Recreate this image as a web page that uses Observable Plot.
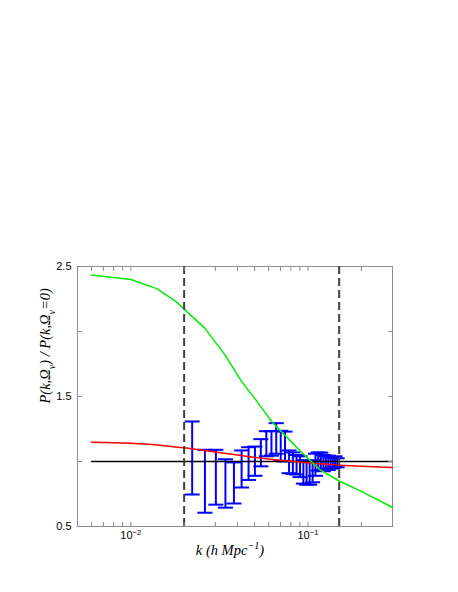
<!DOCTYPE html>
<html><head><meta charset="utf-8">
<script src="https://cdn.jsdelivr.net/npm/d3@7"></script>
<script src="https://cdn.jsdelivr.net/npm/@observablehq/plot@0.6"></script>
<style>body{margin:0;background:#fff;} #chart{width:458px;height:592px;}</style>
</head><body><div id="chart"></div>
<script>
// ---- data ----
const binK = [0.0222,0.0262,0.0302,0.0342,0.0382,0.0422,0.0462,0.0502,0.0542,0.0582,0.0622,0.0662,0.0702,0.0742,0.0782,0.0822,0.0862,0.0902,0.0942,0.0982,0.1022,0.1062,0.1102,0.1142,0.1182,0.1222,0.1262,0.1302,0.1342,0.1382,0.1422,0.1462];
const binLo = [0.746,0.606,0.668,0.645,0.677,0.800,0.858,0.890,0.963,1.040,1.045,1.060,1.005,1.000,0.910,0.905,0.900,0.880,0.830,0.822,0.822,0.840,0.890,0.930,0.935,0.925,0.945,0.935,0.950,0.945,0.960,0.955];
const binHi = [1.308,1.090,1.090,1.017,0.993,1.085,1.110,1.115,1.172,1.233,1.233,1.295,1.236,1.230,1.085,1.070,1.050,1.040,1.010,0.995,1.000,1.010,1.060,1.070,1.068,1.050,1.040,1.045,1.030,1.035,1.040,1.025];

const greenK = [0.006,0.010,0.014,0.018,0.022,0.026,0.034,0.042,0.051,0.063,0.077,0.092,0.116,0.150,0.200,0.300];
const greenV = [2.434,2.400,2.330,2.230,2.120,2.030,1.820,1.620,1.470,1.300,1.180,1.070,0.940,0.850,0.770,0.646];

const redK = [0.006,0.010,0.015,0.020,0.025,0.040,0.055,0.074,0.100,0.150,0.200,0.300];
const redV = [1.149,1.140,1.124,1.105,1.088,1.050,1.025,1.005,0.990,0.972,0.963,0.954];

const refK = [0.006,0.300];
const refV = [1.0,1.0];

const cutK = [0.02,0.15];

const xTicks = [0.005,0.006,0.007,0.008,0.009,0.01,0.02,0.03,0.04,0.05,0.06,0.07,0.08,0.09,0.1,0.2,0.3];
const xLabelValues = [0.01,0.1];
const xLabelTexts = ["10^{-2}","10^{-1}"];
const yTicks = [0.5,1.0,1.5,2.0,2.5];
const yLabelValues = [0.5,1.5,2.5];

const xTitle = ["k (h Mpc^{-1})"];
const yTitle = ["P(k,Ω_{ν}) / P(k,Ω_{ν}=0)"];

// ---- build ----
const bars = binK.map((k,i)=>({k, lo: binLo[i], hi: binHi[i]}));
const green = greenK.map((k,i)=>({k, v: greenV[i]}));
const red = redK.map((k,i)=>({k, v: redV[i]}));
const ref = refK.map((k,i)=>({k, v: refV[i]}));

const capSymbol = {draw(ctx, size){ const w = Math.sqrt(size/Math.PI); ctx.moveTo(-w,0); ctx.lineTo(w,0); }};
const blue = "#0000ff";
const axisGray = "#8c8c8c";
const serif = "'Liberation Serif', 'Times New Roman', serif";

const plot = Plot.plot({
  width: 458, height: 592,
  marginLeft: 77, marginRight: 66, marginTop: 266, marginBottom: 66,
  style: {fontFamily: "'Liberation Sans', Arial, sans-serif", fontSize: "11px", background: "#fff", color: "#000"},
  x: {type: "log", domain: [0.005, 0.3]},
  y: {domain: [0.5, 2.5]},
  marks: [
    Plot.frame({stroke: axisGray}),
    Plot.ruleX(bars, {x: "k", y1: "lo", y2: "hi", stroke: blue, strokeWidth: 2}),
    Plot.dot(bars, {x: "k", y: "lo", symbol: capSymbol, r: 7.5, stroke: blue, strokeWidth: 2, fill: "none"}),
    Plot.dot(bars, {x: "k", y: "hi", symbol: capSymbol, r: 7.5, stroke: blue, strokeWidth: 2, fill: "none"}),
    Plot.line(ref, {x: "k", y: "v", stroke: "#000", strokeWidth: 1.5}),
    Plot.line(red, {x: "k", y: "v", stroke: "#ff0000", strokeWidth: 1.5, curve: "monotone-x"}),
    Plot.line(green, {x: "k", y: "v", stroke: "#00ee00", strokeWidth: 1.5, curve: "linear"}),
    Plot.ruleX(cutK, {stroke: "#404040", strokeWidth: 2, strokeDasharray: "8,4"}),
    Plot.axisX({ticks: xTicks, tickSize: -4, tickPadding: 9, stroke: axisGray, label: null,
      tickFormat: d => { const i = xLabelValues.indexOf(d); return i >= 0 ? xLabelTexts[i] : ""; }}),
    Plot.axisX({anchor: "top", ticks: xTicks, tickSize: -4, stroke: axisGray, label: null, text: null}),
    Plot.axisY({ticks: yTicks, tickSize: -5, tickPadding: 11, stroke: axisGray, label: null,
      tickFormat: d => yLabelValues.includes(d) ? d.toFixed(1) : ""}),
    Plot.axisY({anchor: "right", ticks: yTicks, tickSize: -5, stroke: axisGray, label: null, text: null}),
    Plot.text(xTitle, {text: d => d, frameAnchor: "bottom", dx: -5, dy: 24, lineAnchor: "middle",
      fontFamily: serif, fontStyle: "italic", fontSize: 14.5}),
    Plot.text(yTitle, {text: d => d, frameAnchor: "left", dx: -32, dy: 7, rotate: -90, lineAnchor: "middle",
      fontFamily: serif, fontStyle: "italic", fontSize: 14.5})
  ]
});
document.getElementById("chart").appendChild(plot);

// rich text: ^{..} superscript, _{..} subscript
const NS = "http://www.w3.org/2000/svg";
plot.querySelectorAll("text").forEach(el => {
  const s = el.textContent;
  if (!/[\^_]\{/.test(s)) return;
  const fs = parseFloat(getComputedStyle(el).fontSize) || 12;
  el.textContent = "";
  const re = /([\^_])\{([^}]*)\}/g;
  let last = 0, m, pending = 0;
  const add = (txt, small, shift) => {
    if (!txt) return;
    const t = document.createElementNS(NS, "tspan");
    t.textContent = txt;
    const d = shift + pending;
    if (d) t.setAttribute("dy", d);
    pending = -shift;
    if (small) t.setAttribute("font-size", (fs * 0.7).toFixed(2));
    el.appendChild(t);
  };
  while ((m = re.exec(s))) {
    add(s.slice(last, m.index), false, 0);
    add(m[2].replace("-", "−"), true, m[1] === "^" ? -0.42 * fs : 0.3 * fs);
    last = re.lastIndex;
  }
  add(s.slice(last), false, 0);
});
</script>
</body></html>
